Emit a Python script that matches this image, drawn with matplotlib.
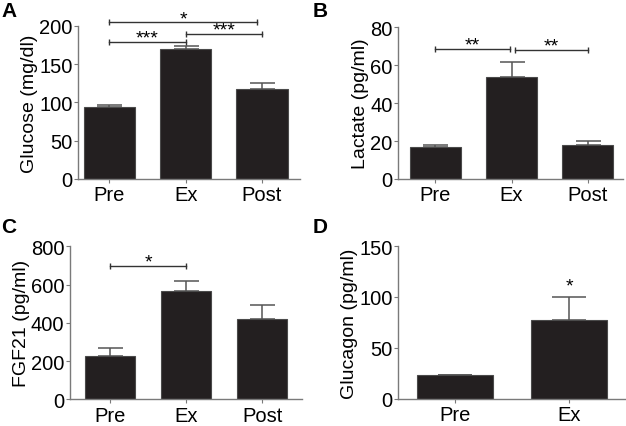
import numpy as np
import matplotlib.pyplot as plt

plt.rcParams['font.family'] = ['Liberation Sans', 'DejaVu Sans']

groups3 = ['Pre', 'Ex', 'Post']
groups2 = ['Pre', 'Ex']

glucose = [93.7, 170.5, 117.5]
glucose_err = [2.5, 3.0, 8.5]

lactate = [17.0, 54.0, 18.1]
lactate_err = [1.0, 7.7, 2.1]

fgf21 = [226, 565, 420]
fgf21_err = [40, 52, 75]

glucagon = [23.3, 77.6]
glucagon_err = [0.0, 22.4]

bar_col = '#231f20'
axis_col = '#7a7a7a'
fs = 14.5

fig = plt.figure(figsize=(6.26, 4.27), dpi=100)


def bar_panel(rect, cats, vals, errs, ylim, yticks, ylabel, xlim, width, capsize):
    ax = fig.add_axes(rect)
    x = np.arange(len(cats))
    ax.errorbar(x, vals, yerr=[np.zeros(len(vals)), errs], fmt='none',
                ecolor='#555555', elinewidth=1.1, capsize=capsize, capthick=1.1,
                zorder=1)
    ax.bar(x, vals, width=width, color=bar_col, edgecolor='#4a4a4a',
           linewidth=0.8, zorder=2)
    ax.set_xlim(*xlim)
    ax.set_ylim(*ylim)
    ax.set_yticks(yticks)
    ax.set_xticks(x)
    ax.set_xticklabels(cats, fontsize=fs)
    ax.set_ylabel(ylabel, fontsize=fs - 0.5, labelpad=1)
    for s in ['top', 'right']:
        ax.spines[s].set_visible(False)
    for s in ['left', 'bottom']:
        ax.spines[s].set_color(axis_col)
        ax.spines[s].set_linewidth(1.0)
    ax.tick_params(axis='y', labelsize=fs, length=3, color=axis_col, pad=1)
    ax.tick_params(axis='x', length=3, color=axis_col, pad=1.5)
    return ax


def bracket(ax, x0, x1, y, stars):
    ax.plot([x0, x1], [y, y], color='#333333', lw=1.0, marker='|',
            markersize=5, markeredgewidth=1.0, clip_on=False, zorder=3)
    ax.annotate(stars, ((x0 + x1) / 2, y), xytext=(0, -3.5),
                textcoords='offset points', ha='center', va='bottom',
                fontsize=14, annotation_clip=False)


# A
axA = bar_panel([0.1246, 0.5785, 0.355, 0.3583], groups3, glucose, glucose_err,
                (0, 200), [0, 50, 100, 150, 200], 'Glucose (mg/dl)',
                (-0.41, 2.5), 0.67, 9)
bracket(axA, 0, 1, 179, '***')
bracket(axA, 1, 2, 189.5, '***')
bracket(axA, 0, 1.93, 205, '*')

# B
axB = bar_panel([0.636, 0.5785, 0.36, 0.3552], groups3, lactate, lactate_err,
                (0, 80), [0, 20, 40, 60, 80], 'Lactate (pg/ml)',
                (-0.49, 2.47), 0.67, 9)
bracket(axB, 0, 0.98, 68.7, '**')
bracket(axB, 1.04, 2, 68.0, '**')

# C
axC = bar_panel([0.1118, 0.0625, 0.37, 0.3583], groups3, fgf21, fgf21_err,
                (0, 800), [0, 200, 400, 600, 800], 'FGF21 (pg/ml)',
                (-0.53, 2.52), 0.66, 9)
bracket(axC, 0, 1, 697, '*')

# D
axD = bar_panel([0.636, 0.0639, 0.364, 0.3576], groups2, glucagon, glucagon_err,
                (0, 150), [0, 50, 100, 150], 'Glucagon (pg/ml)',
                (-0.5, 1.5), 0.67, 12.5)
axD.annotate('*', (1, 100), xytext=(0, 2), textcoords='offset points',
             ha='center', va='bottom', fontsize=14)

for lbl, (fx, fy) in zip('ABCD', [(0.002, 0.995), (0.5, 0.995),
                                  (0.002, 0.49), (0.5, 0.49)]):
    fig.text(fx, fy, lbl, fontsize=15, fontweight='bold', ha='left', va='top')

fig.savefig('out.png', dpi=100)
